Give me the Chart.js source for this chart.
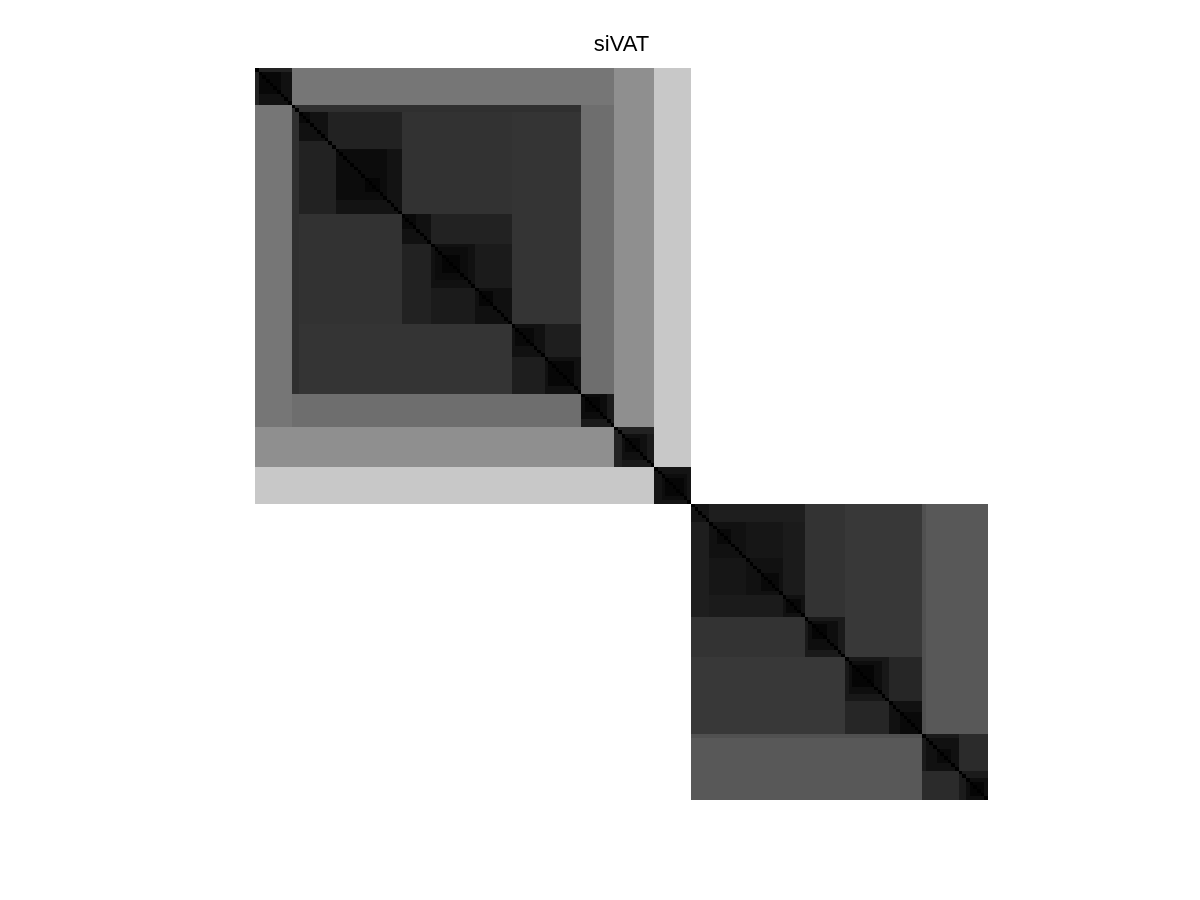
<!DOCTYPE html>
<html>
<head>
<meta charset="utf-8">
<title>siVAT</title>
<script src="https://cdn.jsdelivr.net/npm/chart.js@4/dist/chart.umd.min.js"></script>
<style>
  html, body { margin: 0; padding: 0; background: #ffffff; }
  #c { display: block; }
</style>
</head>
<body>
<canvas id="c" width="1200" height="900"></canvas>
<script>
// ---- data: reordered dissimilarity image (siVAT), 200 x 200 cells ----
const matrixSize = 200;
const titleText = 'siVAT';
// nested square blocks on the diagonal (painted outer first): [start, end) index ranges and gray level 0-255
const blockStart = [
  0, 0, 0, 0, 1, 1, 10, 10, 12, 12, 12, 12, 12, 22, 22, 30, 40, 40, 40, 48, 48, 49, 51, 60, 61,
  70, 70, 71, 79, 80, 89, 89, 90, 98, 100, 100, 101, 109, 111, 112,
  119, 119, 119, 119, 119, 119, 124, 124, 124, 126, 134, 138, 144, 145, 150, 151, 152,
  161, 161, 162, 163, 173, 176, 182, 182, 183, 186, 192, 194, 195
];
const blockEnd = [
  119, 109, 98, 10, 10, 7, 98, 89, 89, 70, 40, 20, 15, 40, 36, 34, 70, 48, 44, 70, 60, 58, 56, 70, 65,
  89, 79, 76, 89, 87, 98, 96, 94, 109, 109, 107, 105, 119, 118, 117,
  200, 183, 182, 161, 150, 124, 150, 144, 134, 130, 144, 143, 150, 149, 161, 159, 156,
  182, 173, 171, 169, 182, 182, 200, 192, 192, 190, 200, 200, 199
];
const blockGray = [
  200, 143, 118, 34, 17, 8, 110, 47, 52, 50, 34, 17, 9, 19, 12, 5, 34, 17, 9, 27, 17, 12, 5, 16, 6,
  30, 17, 9, 17, 7, 26, 12, 6, 34, 26, 16, 8, 20, 13, 6,
  88, 80, 56, 51, 30, 20, 27, 22, 17, 9, 17, 9, 17, 8, 26, 14, 5,
  38, 24, 14, 5, 17, 9, 43, 26, 17, 9, 27, 14, 5
];
const diagonalGray = 0;
const backgroundGray = 255;

// build the matrix from the blocks
const matrix = [];
for (let r = 0; r < matrixSize; r++) {
  matrix.push(new Array(matrixSize).fill(backgroundGray));
}
for (let b = 0; b < blockStart.length; b++) {
  for (let r = blockStart[b]; r < blockEnd[b]; r++) {
    for (let c = blockStart[b]; c < blockEnd[b]; c++) {
      matrix[r][c] = blockGray[b];
    }
  }
}
for (let i = 0; i < matrixSize; i++) matrix[i][i] = diagonalGray;

// plugin: draws every matrix cell through the chart's scales
const matrixImagePlugin = {
  id: 'matrixImage',
  beforeDatasetsDraw(chart) {
    const ctx = chart.ctx;
    const xs = chart.scales.x, ys = chart.scales.y;
    const xEdge = [], yEdge = [];
    for (let i = 0; i <= matrixSize; i++) {
      xEdge.push(Math.round(xs.getPixelForValue(i)));
      yEdge.push(Math.round(ys.getPixelForValue(i)));
    }
    ctx.save();
    for (let r = 0; r < matrixSize; r++) {
      let c = 0;
      while (c < matrixSize) {
        const v = matrix[r][c];
        let e = c + 1;
        while (e < matrixSize && matrix[r][e] === v) e++;
        if (v !== backgroundGray) {
          ctx.fillStyle = 'rgb(' + v + ',' + v + ',' + v + ')';
          const y0 = Math.min(yEdge[r], yEdge[r + 1]);
          const y1 = Math.max(yEdge[r], yEdge[r + 1]);
          ctx.fillRect(xEdge[c], y0, xEdge[e] - xEdge[c], y1 - y0);
        }
        c = e;
      }
    }
    ctx.restore();
  }
};

new Chart(document.getElementById('c'), {
  type: 'scatter',
  data: { datasets: [{ data: [], pointRadius: 0 }] },
  options: {
    responsive: false,
    animation: false,
    devicePixelRatio: 1,
    layout: { padding: { left: 255, right: 212, top: 0, bottom: 100 } },
    scales: {
      x: { type: 'linear', min: 0, max: matrixSize, display: false },
      y: { type: 'linear', min: 0, max: matrixSize, reverse: true, display: false }
    },
    plugins: {
      legend: { display: false },
      tooltip: { enabled: false },
      title: {
        display: true,
        text: titleText,
        color: '#000000',
        font: { family: '"Liberation Sans", Arial, sans-serif', size: 22, weight: 'normal', lineHeight: 1.2 },
        padding: { top: 32, bottom: 9.6 }
      }
    }
  },
  plugins: [matrixImagePlugin]
});
</script>
</body>
</html>
